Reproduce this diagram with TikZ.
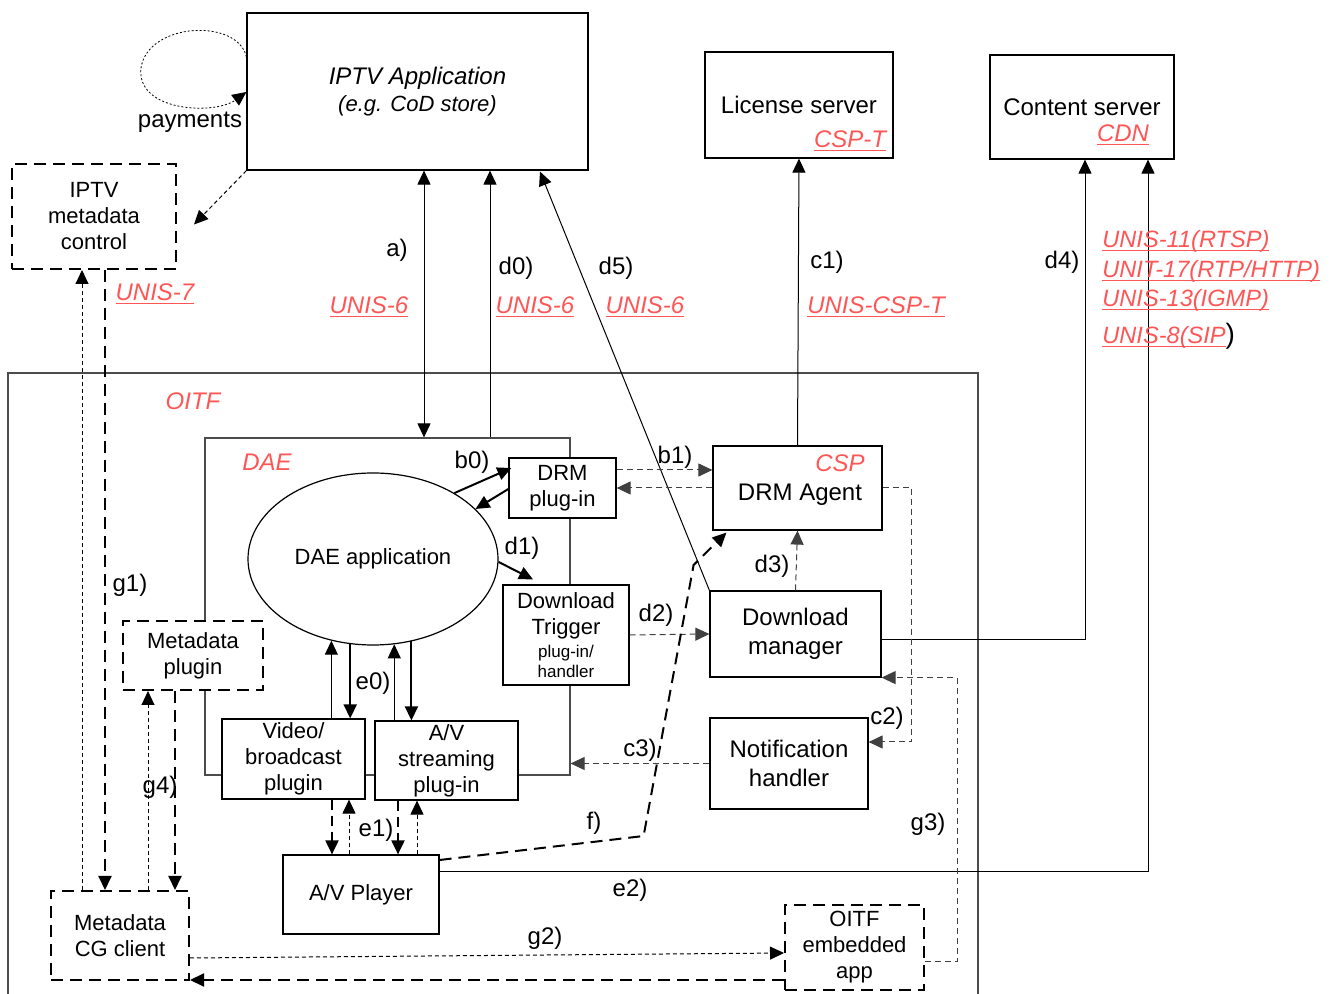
\documentclass[tikz,border=0pt]{standalone}
\usepackage{fontspec}
\setmainfont{Liberation Sans}
\usetikzlibrary{arrows.meta,shapes.geometric}
\definecolor{oired}{RGB}{255,85,85}
\newcommand{\unislink}[1]{\textcolor{oired}{$\underline{\smash{\mbox{\itshape #1}}}$}}

\begin{document}
\begin{tikzpicture}[x=0.5pt, y=-0.5pt,
    font=\fontsize{11}{13}\selectfont,
    >={Triangle[length=7pt,width=6.5pt]},
    box/.style={draw, line width=0.6pt, fill=white, align=center, inner sep=0pt},
    dbox/.style={box, line width=1pt, dash pattern=on 6pt off 3.5pt},
    big/.style={font=\fontsize{12}{14.5}\selectfont},
    lab/.style={inner sep=0pt, font=\fontsize{12}{14}\selectfont},
    unislab/.style={lab, anchor=west, font=\fontsize{11.8}{13}\selectfont},
    redlab/.style={inner sep=0pt, text=oired, font=\fontsize{12}{14}\selectfont\itshape},
    conn/.style={->, line width=0.5pt},
    thickconn/.style={->, line width=1pt},
    dashconn/.style={conn, black!75, dash pattern=on 3pt off 2pt},
    dotconn/.style={conn, dash pattern=on 2pt off 1.5pt},
    longdash/.style={thickconn, dash pattern=on 6pt off 3.5pt}]
  \useasboundingbox (0,0) rectangle (1341,994);

  % OITF frame and DAE box
  \draw[black!70, line width=0.6pt] (8,994) -- (8,373) -- (978,373) -- (978,994);
  \node[redlab] (oitflab) at (193,401) {OITF};
  \node[draw=black!70, line width=0.6pt, inner sep=0pt,
        minimum width=182.5pt, minimum height=168.5pt] (dae) at (387.5,606.5) {};
  \node[redlab] (daelab) at (267,462) {DAE};

  % servers
  \node[box, font=\fontsize{12}{13.5}\selectfont\itshape, minimum width=170.5pt, minimum height=78.5pt]
    (iptvapp) at (417.5,91.5) {IPTV Application\\{\fontsize{11}{13}\selectfont (e.g. CoD store)}};
  \node[dbox, minimum width=82pt, minimum height=52.5pt] (metactl) at (94,216.5) {IPTV\\metadata\\control};
  \node[box, big, minimum width=94pt, minimum height=53pt] (license) at (799,105) {License server};
  \node[lab] (cspt) at (850,150) {\unislink{CSP-T}};
  \node[box, big, minimum width=92pt, minimum height=52pt] (content) at (1082,107) {Content server};
  \node[lab] (cdn) at (1123,144) {\unislink{CDN}};

  % OITF blocks
  \node[draw, line width=0.6pt, fill=white, ellipse, inner sep=0pt,
        minimum width=125pt, minimum height=86pt] (daeapp) at (373,559) {DAE application};
  \node[box, minimum width=53.5pt, minimum height=30pt] (drmplug) at (562.5,488) {DRM\\plug-in};
  \node[box, minimum width=63pt, minimum height=50pt] (trigger) at (566,635)
    {Download\\Trigger\\[-1.5pt]{\fontsize{8.5}{10}\selectfont plug-in/}\\[-3pt]{\fontsize{8.5}{10}\selectfont handler}};
  \node[dbox, minimum width=70pt, minimum height=34.5pt] (metaplug) at (193,655.5) {Metadata\\plugin};
  \node[box, minimum width=71.5pt, minimum height=40pt] (video) at (293.5,759) {Video/\\broadcast\\plugin};
  \node[box, minimum width=71.5pt, minimum height=39.5pt] (avstream) at (446.5,760.5) {A/V\\streaming\\plug-in};
  \node[box, minimum width=78pt, minimum height=39.5pt] (player) at (361,894.5) {A/V Player};
  \node[dbox, minimum width=69pt, minimum height=44.5pt] (cgclient) at (120,935.5) {Metadata\\CG client};
  \node[dbox, minimum width=69.5pt, minimum height=42.5pt] (embapp) at (854.5,947.5) {OITF\\embedded\\app};
  \node[box, minimum width=84.5pt, minimum height=42pt] (drmagent) at (797.5,488) {};
  \node[big, inner sep=0pt] (drmagenttxt) at (800,495) {DRM Agent};
  \node[redlab] (csp) at (840,463) {CSP};
  \node[box, big, minimum width=85.5pt, minimum height=43pt] (dlmgr) at (795.5,634) {Download\\manager};
  \node[box, big, minimum width=79pt, minimum height=45.5pt] (notif) at (789,763.5) {Notification\\handler};

  % payments loop
  \draw[conn, line width=0.4pt, dash pattern=on 1pt off 1pt] ([shift={(0,-34.5)}]iptvapp.west)
    .. controls (238,18) and (148,22) .. (141,68)
    .. controls (136,112) and (215,115) .. ([shift={(0,0.5)}]iptvapp.west);
  \node[lab] (paylab) at (190,122) {payments};
  \draw[dotconn] (iptvapp.south west) -- ([shift={(17,8)}]metactl.east);
  \node[lab] (unis7) at (155,303) {\unislink{UNIS-7}};

  % network interfaces
  \draw[<->, line width=0.5pt] ([shift={(6.5,0)}]iptvapp.south) -- ([shift={(36.5,0)}]dae.north);
  \draw[conn] ([shift={(102.5,0)}]dae.north) -- ([shift={(72.5,0)}]iptvapp.south);
  \draw[conn] (dlmgr.north west) -- ([shift={(122.5,1)}]iptvapp.south);
  \draw[conn] (drmagent.north) -- (license.south);
  \draw[conn] ([shift={(0,6)}]dlmgr.east) -| ([shift={(3,0)}]content.south);
  \draw[conn] ([shift={(0,-22.5)}]player.east) -| ([shift={(66,0)}]content.south);
  \node[lab] (alab) at (397,250) {a)};
  \node[lab] (d0lab) at (516,268) {d0)};
  \node[lab] (d5lab) at (616,268) {d5)};
  \node[lab] (c1lab) at (827,262) {c1)};
  \node[lab] (d4lab) at (1062,262) {d4)};
  \node[lab] (unis6a) at (369,316) {\unislink{UNIS-6}};
  \node[lab] (unis6b) at (535,316) {\unislink{UNIS-6}};
  \node[lab] (unis6c) at (645,316) {\unislink{UNIS-6}};
  \node[lab] (unisc) at (876,316) {\unislink{UNIS-CSP-T}};
  \node[unislab] (unis11) at (1102,250) {\unislink{UNIS-11(RTSP)}};
  \node[unislab] (unit17) at (1102,280) {\unislink{UNIT-17(RTP/HTTP)}};
  \node[unislab] (unis13) at (1102,309) {\unislink{UNIS-13(IGMP)}};
  \node[unislab] (unis8) at (1102,336) {\unislink{UNIS-8(SIP}{\fontsize{14}{14}\selectfont)}};

  % inside the OITF
  \draw[thickconn] (daeapp.39) -- ([shift={(3,-20)}]drmplug.west);
  \draw[thickconn] ([shift={(0,1)}]drmplug.west) -- (daeapp.26);
  \draw[thickconn] ([shift={(0,3)}]daeapp.east) -- ([shift={(-33,-5)}]trigger.north);
  \draw[dashconn] ([shift={(0,-18)}]drmplug.east) -- ([shift={(0,-18)}]drmagent.west);
  \draw[dashconn] (drmagent.west) -- (drmplug.east);
  \draw[dashconn] (trigger.east) -- (dlmgr.west);
  \draw[dashconn] (dlmgr.north) -- (drmagent.south);
  \draw[dashconn] (notif.west) -- (notif.west -| dae.east);
  \draw[dashconn] (drmagent.east) -- ++(29,0) |- ([shift={(0,-21.5)}]notif.east);
  \draw[dashconn] ([shift={(0,14.5)}]embapp.east) -- ++(32,0) |- (dlmgr.south east);
  \draw[longdash] ([shift={(0,-34.5)}]player.east) -- ++(204,-24) -- ++(50,-271)
    -- ([shift={(14,2)}]drmagent.south west);
  \draw[conn] (daeapp.243 |- video.north) -- (daeapp.243);
  \draw[thickconn] (daeapp.255) -- (daeapp.255 |- video.north);
  \draw[conn] (daeapp.284 |- avstream.north) -- (daeapp.284);
  \draw[thickconn] (daeapp.295) -- (daeapp.295 |- avstream.north);
  \draw[longdash, dash pattern=on 5pt off 3pt] ([shift={(38.5,0)}]video.south) -- ([shift={(-29,0)}]player.north);
  \draw[dotconn] ([shift={(-12,0)}]player.north) -- ([shift={(55.5,0)}]video.south);
  \draw[longdash, dash pattern=on 5pt off 3pt] ([shift={(-48.5,0)}]avstream.south) -- ([shift={(37,0)}]player.north);
  \draw[dotconn] ([shift={(56,0)}]player.north) -- ([shift={(-29.5,0)}]avstream.south);
  \draw[longdash] ([shift={(11,0)}]metactl.south) -- ([shift={(-15,0)}]cgclient.north);
  \draw[dotconn] ([shift={(-38,0)}]cgclient.north) -- ([shift={(-12,0)}]metactl.south);
  \draw[dotconn] ([shift={(28,0)}]cgclient.north) -- ([shift={(-45,0)}]metaplug.south);
  \draw[longdash] ([shift={(-18,0)}]metaplug.south) -- ([shift={(55,0)}]cgclient.north);
  \draw[dotconn] ([shift={(0,22.5)}]cgclient.east) -- ([shift={(0,5.5)}]embapp.west);
  \draw[longdash] ([shift={(0,32.5)}]embapp.west) -- ([shift={(0,44.5)}]cgclient.east);

  \node[lab] (b0lab) at (472,462) {b0)};
  \node[lab] (b1lab) at (675,457) {b1)};
  \node[lab] (d1lab) at (522,548) {d1)};
  \node[lab] (d2lab) at (656,615) {d2)};
  \node[lab] (d3lab) at (772,566) {d3)};
  \node[lab] (g1lab) at (130,585) {g1)};
  \node[lab] (e0lab) at (373,683) {e0)};
  \node[lab] (c2lab) at (887,718) {c2)};
  \node[lab] (c3lab) at (640,750) {c3)};
  \node[lab] (g4lab) at (160,787) {g4)};
  \node[lab] (e1lab) at (376,830) {e1)};
  \node[lab] (flab) at (594,823) {f)};
  \node[lab] (g3lab) at (928,824) {g3)};
  \node[lab] (e2lab) at (630,890) {e2)};
  \node[lab] (g2lab) at (545,938) {g2)};
\end{tikzpicture}
\end{document}
